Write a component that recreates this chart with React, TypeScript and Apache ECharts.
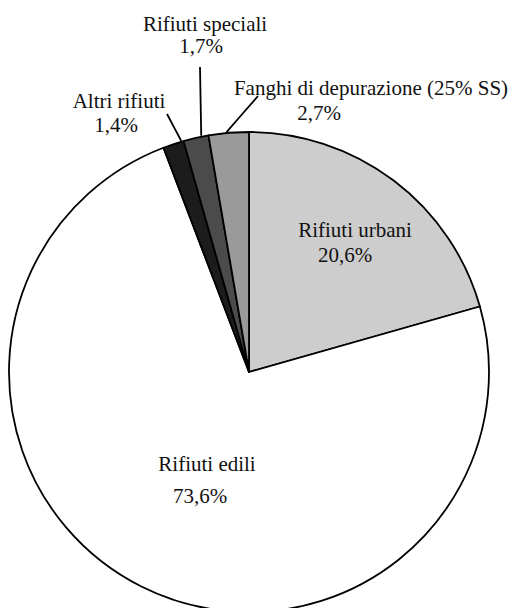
import React, { useEffect, useRef } from "react";
import * as echarts from "echarts";

const categories = [
  "Rifiuti urbani",
  "Rifiuti edili",
  "Altri rifiuti",
  "Rifiuti speciali",
  "Fanghi di depurazione (25% SS)",
];
const values = [20.6, 73.6, 1.4, 1.7, 2.7];
const colors = ["#cdcdcd", "#ffffff", "#1c1c1c", "#4b4b4b", "#9a9a9a"];

// label layout: centre x, top y, line height, value shift, leader start, leader end position within slice
const labelX = [355, 207, 119, 205, 371];
const labelTop = [217, 448, 89, 13, 75];
const labelLH = [25, 32, 24, 22, 25];
const valueShift = [10, 7, 3, 4, 52];
const leaderStart: (number[] | null)[] = [null, null, [167, 114], [200, 67], [258, 96]];
const leaderEndFrac = [0.5, 0.5, 0.9, 0.72, 0.45];

const CENTER = [249, 372];
const RADIUS = 240;
const FONT = "'Liberation Serif', 'Times New Roman', serif";

const fmt = (v: number) => v.toFixed(1).replace(".", ",") + "%";

export default function App() {
  const ref = useRef<HTMLDivElement>(null);
  useEffect(() => {
    if (!ref.current) return;
    const chart = echarts.init(ref.current, null, { renderer: "svg" });
    const total = values.reduce((a, b) => a + b, 0);
    const endPos: number[] = [];
    let s = 0;
    values.forEach((v, i) => {
      endPos.push(s + v * leaderEndFrac[i]);
      s += v;
    });
    const data = categories.map((name, i) => ({
      name,
      value: values[i],
      itemStyle: { color: colors[i] },
      labelLine: { show: leaderStart[i] !== null },
      label: {
        fontFamily: FONT,
        fontSize: 21,
        formatter: `{n|${name}}\n{v|${fmt(values[i])}}`,
        rich: {
          n: {
            fontFamily: FONT,
            fontSize: 21,
            color: "#111",
            lineHeight: labelLH[i],
            align: "center",
          },
          v: {
            fontFamily: FONT,
            fontSize: 21,
            color: "#111",
            lineHeight: labelLH[i],
            align: "center",
            padding: [0, valueShift[i] * 2, 0, 0],
          },
        },
      },
    }));
    chart.setOption({
      animation: false,
      backgroundColor: "#ffffff",
      series: [
        {
          type: "pie",
          center: CENTER,
          radius: RADIUS,
          startAngle: 90,
          clockwise: true,
          avoidLabelOverlap: false,
          itemStyle: { borderColor: "#000", borderWidth: 1.8 },
          emphasis: { disabled: true },
          label: { show: true, position: "outside" },
          labelLine: { lineStyle: { color: "#000", width: 1.8 } },
          labelLayout: (params: any) => {
            const i = params.dataIndex;
            const res: any = {
              x: labelX[i],
              y: labelTop[i],
              align: "center",
              verticalAlign: "top",
            };
            const st = leaderStart[i];
            if (st) {
              const a = (endPos[i] / total) * Math.PI * 2;
              const end = [
                CENTER[0] + (RADIUS + 1) * Math.sin(a),
                CENTER[1] - (RADIUS + 1) * Math.cos(a),
              ];
              res.labelLinePoints = [st, [(st[0] + end[0]) / 2, (st[1] + end[1]) / 2], end];
            }
            return res;
          },
          data,
        },
      ],
    });
    return () => chart.dispose();
  }, []);
  return (
    <div
      ref={ref}
      style={{ position: "fixed", left: 0, top: 0, width: 514, height: 608 }}
    />
  );
}
